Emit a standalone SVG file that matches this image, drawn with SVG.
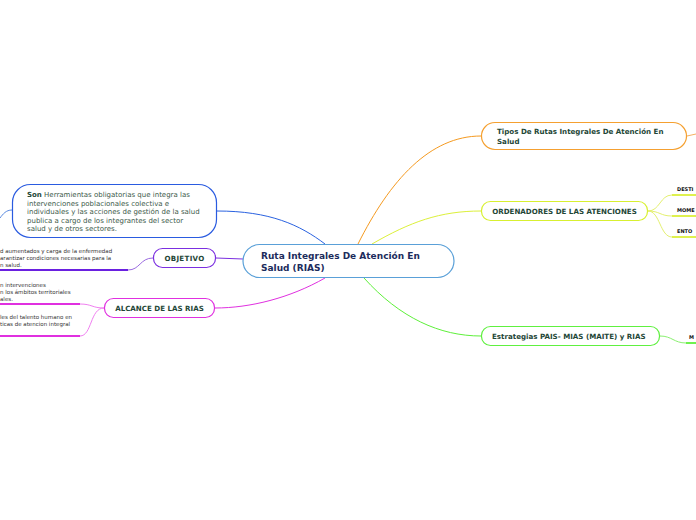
<svg xmlns="http://www.w3.org/2000/svg" width="696" height="520" viewBox="0 0 696 520">
<style>
text{font-family:"DejaVu Sans","Liberation Sans",sans-serif}
.n{fill:#fff;stroke-width:1.2}
.t{font-size:7.1px;font-weight:bold;fill:#1e4636}
.c{font-size:9px;font-weight:bold;fill:#1c2c5c}
.s{font-size:7px;fill:#3d5a4a}
.f{font-size:5.5px;fill:#333}
.e{font-size:5px;font-weight:bold;fill:#111}
.l{fill:none;stroke-width:1}
.u{fill:none;stroke-width:1.8}
</style>
<rect width="696" height="520" fill="#fff"/>
<g id="connectors">
<path class="l" stroke="#2a62e0" d="M217,211 C270,211 300,225 325,244"/>
<path class="l" stroke="#7b2fe0" d="M243,259 L216,258"/>
<path class="l" stroke="#e030e0" d="M325,278 C290,298 250,308 215,308"/>
<path class="l" stroke="#f59a20" d="M358,244 C390,180 430,136 481,136"/>
<path class="l" stroke="#dcf03a" d="M372,244 C410,222 440,211 481,211"/>
<path class="l" stroke="#5ef03a" d="M364,278 C400,318 440,336 481,336"/>
<path class="l" stroke="#5a8ae0" d="M12,210 C6,210 3,214 0,218"/>
<path class="l" stroke="#9a6ae0" d="M153,258 C140,258 140,270 128,270"/>
<path class="u" stroke="#6a20e0" d="M0,270 L128,270"/>
<path class="l" stroke="#f080f0" d="M104,308 C92,308 92,304 80,304"/>
<path class="l" stroke="#f080f0" d="M104,308 C90,308 92,336 80,336"/>
<path class="u" stroke="#e030e0" d="M0,304 L80,304"/>
<path class="u" stroke="#e030e0" d="M0,336 L80,336"/>
<path class="l" stroke="#f5b060" d="M687,136 L696,134"/>
<path class="l" stroke="#e4f070" d="M648,211 C660,211 660,195 672,195"/>
<path class="l" stroke="#e4f070" d="M648,211 C660,211 660,216 672,216"/>
<path class="l" stroke="#e4f070" d="M648,211 C660,211 660,237 672,237"/>
<path class="u" stroke="#dcf03a" d="M672,195 L696,195"/>
<path class="u" stroke="#dcf03a" d="M672,216 L696,216"/>
<path class="u" stroke="#dcf03a" d="M672,237 L696,237"/>
<path class="l" stroke="#8af070" d="M660,336 C672,336 674,343 686,343"/>
<path class="u" stroke="#5ef03a" d="M686,343 L696,343"/>
</g>
<g id="center">
<rect class="n" x="243" y="244.5" width="211" height="33" rx="16.5" stroke="#5aa0d8"/>
<text class="c" x="261" y="259">Ruta Integrales De Atención En</text>
<text class="c" x="261" y="270.5">Salud (RIAS)</text>
</g>
<g id="son">
<rect class="n" x="12.5" y="184.5" width="204" height="53" rx="18" stroke="#2a5be0"/>
<text class="s" x="27" y="197"><tspan font-weight="bold" fill="#1e4636">Son</tspan> Herramientas obligatorias que integra las</text>
<text class="s" x="27" y="205.5">intervenciones poblacionales colectiva e</text>
<text class="s" x="27" y="214">individuales y las acciones de gestión de la salud</text>
<text class="s" x="27" y="222.5">publica a cargo de los integrantes del sector</text>
<text class="s" x="27" y="231">salud y de otros sectores.</text>
</g>
<g id="objetivo">
<rect class="n" x="153.5" y="248.5" width="62" height="19" rx="9" stroke="#7b2fe0"/>
<text class="t" x="184.5" y="261" text-anchor="middle" letter-spacing="0.3">OBJETIVO</text>
</g>
<g id="objetivo-text">
<text class="f" x="0" y="253">d aumentados y carga de la enfermedad</text>
<text class="f" x="0" y="260">arantizar condiciones necesarias para la</text>
<text class="f" x="0" y="267">n salud.</text>
</g>
<g id="alcance">
<rect class="n" x="104.5" y="298.5" width="110" height="19" rx="9" stroke="#e030e0"/>
<text class="t" x="159.5" y="311" text-anchor="middle">ALCANCE DE LAS RIAS</text>
</g>
<g id="alcance-text">
<text class="f" x="0" y="287">n intervenciones</text>
<text class="f" x="0" y="294">n los ámbitos territoriales</text>
<text class="f" x="0" y="301">ales.</text>
<text class="f" x="0" y="319">les del talento humano en</text>
<text class="f" x="0" y="326">ticas de atencion integral</text>
</g>
<g id="tipos">
<rect class="n" x="481.5" y="122.5" width="205" height="27" rx="13.5" stroke="#f5a030"/>
<text class="t" x="497" y="134">Tipos De Rutas Integrales De Atención En</text>
<text class="t" x="497" y="144">Salud</text>
</g>
<g id="ordenadores">
<rect class="n" x="481.5" y="201.5" width="166" height="19" rx="9" stroke="#d8f030"/>
<text class="t" x="564.5" y="214" text-anchor="middle">ORDENADORES DE LAS ATENCIONES</text>
</g>
<g id="ordenadores-sub">
<text class="e" x="677" y="191">DESTI</text>
<text class="e" x="677" y="212">MOME</text>
<text class="e" x="677" y="233">ENTO</text>
</g>
<g id="estrategias">
<rect class="n" x="481.5" y="326.5" width="178" height="19" rx="9" stroke="#60f040"/>
<text class="t" x="492" y="339">Estrategias PAIS- MIAS (MAITE) y RIAS</text>
</g>
<g id="estrategias-sub">
<text class="e" x="689" y="339">M</text>
</g>
</svg>
